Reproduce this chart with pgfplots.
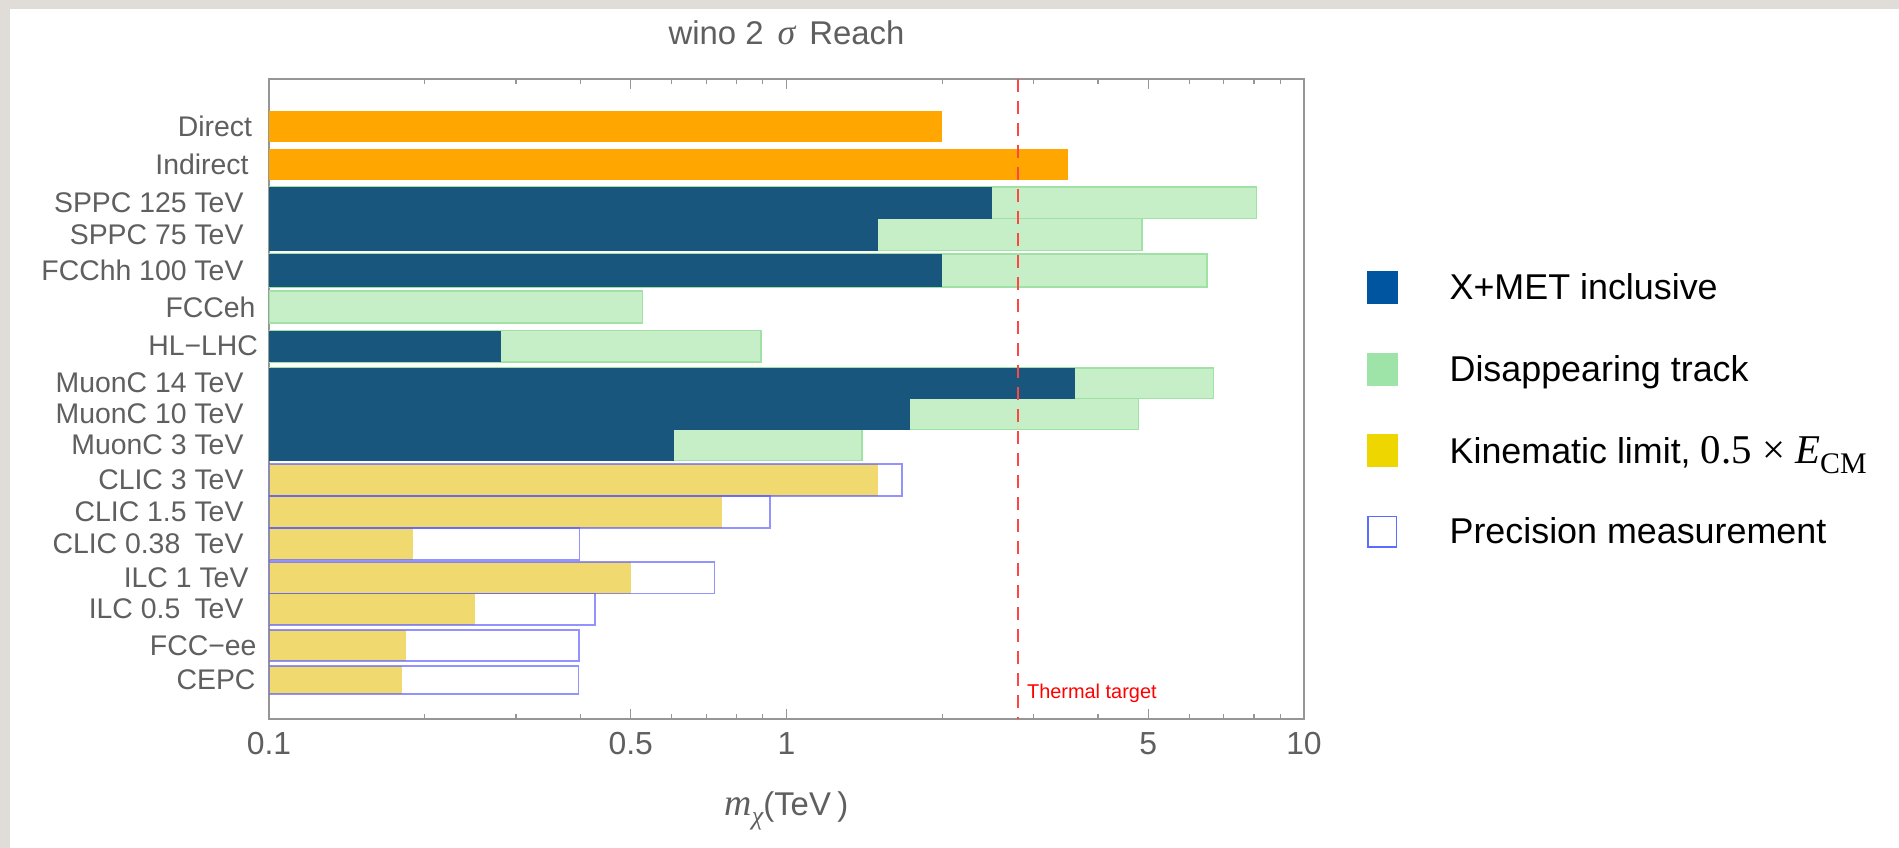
\documentclass[border=0pt]{standalone}
\usepackage{fontspec}
\setmainfont{Liberation Sans}
\newfontfamily\timesface{Liberation Serif}
\usepackage{pgfplots}
\pgfplotsset{compat=1.18}

\definecolor{cardgrey}{RGB}{224,221,216}
\definecolor{framegrey}{RGB}{150,150,150}
\definecolor{labelgrey}{RGB}{95,95,95}
\definecolor{orangebar}{RGB}{255,166,0}
\definecolor{bluebar}{RGB}{24,86,126}
\definecolor{greenbar}{RGB}{198,239,200}
\definecolor{greenedge}{RGB}{160,226,166}
\definecolor{yellowbar}{RGB}{240,218,112}
\definecolor{precedge}{RGB}{90,90,255}
\definecolor{legblue}{RGB}{0,85,160}
\definecolor{leggreen}{RGB}{158,227,168}
\definecolor{legyellow}{RGB}{238,215,0}
\definecolor{legprec}{RGB}{92,108,255}
\definecolor{thermal}{RGB}{255,70,70}

\pgfplotsset{
  direct/.style={fill=orangebar, draw=none},
  xmet/.style={fill=bluebar, draw=none},
  dtrack/.style={fill=greenbar, draw=greenedge, line width=1.5bp},
  precfill/.style={fill=white, draw=none},
  kin/.style={fill=yellowbar, draw=none},
  precline/.style={draw=precedge, draw opacity=0.65, line width=1.5bp},
}

\begin{document}
\begin{tikzpicture}
% page frame
\fill[cardgrey] (0,0) rectangle (1899bp,848bp);
\fill[white] (10bp,0) rectangle (1899bp,839bp);

\begin{axis}[
  at={(269bp,129bp)}, anchor=south west,
  scale only axis, width=1035bp, height=640bp,
  xmode=log, xmin=0.1, xmax=10,
  ymin=79, ymax=719, y dir=reverse,
  axis line style={draw=framegrey, line width=1.5bp},
  xtick={0.1,0.5,1,5,10},
  xticklabels={0.1,0.5,1,5,10},
  minor xtick={0.2,0.3,0.4,0.6,0.7,0.8,0.9,2,3,4,6,7,8,9},
  major tick length=10bp, minor tick length=5bp,
  xtick style={draw=framegrey, line width=1.3bp},
  xticklabel style={font=\fontsize{32}{38}\selectfont, text=labelgrey, yshift=-10bp},
  ytick={126.5,164.5,203,234.5,270.5,307,346,383,414,445,480,512,544,578,609,645.5,680},
  yticklabels={Direct\kern-8.5bp,Indirect\kern-5bp,SPPC 125 TeV,SPPC 75 TeV,FCChh 100 TeV,
    FCCeh\kern-12bp,HL−LHC\kern-14.5bp,
    MuonC 14 TeV,MuonC 10 TeV,MuonC 3 TeV,CLIC 3 TeV,CLIC 1.5 TeV,
    CLIC 0.38\hspace{0.5em}TeV,
    ILC 1 TeV\kern-5bp,ILC 0.5\hspace{0.5em}TeV,FCC−ee\kern-13bp,CEPC\kern-12bp},
  ytick style={draw=none},
  yticklabel style={font=\fontsize{28.5}{34}\selectfont, text=labelgrey, xshift=-22bp},
  title={wino 2\hspace{0.15em} {\fontsize{36}{40}\selectfont\timesface\itshape σ}\hspace{0.15em} Reach},
  title style={at={(0.5,1)}, anchor=base, yshift=29bp,
    font=\fontsize{33}{39}\selectfont, text=labelgrey},
  xlabel={{\fontsize{38}{42}\selectfont\timesface\itshape m}\raisebox{-0.3em}{\fontsize{26}{30}\selectfont\timesface\itshape χ}(TeV\hspace{0.2em})},
  xlabel style={at={(0.5,0)}, anchor=base, yshift=-96bp,
    font=\fontsize{33}{39}\selectfont, text=labelgrey},
  legend style={at={(1.0609,0.700)}, anchor=north west, draw=none, fill=none,
    inner sep=0pt, row sep=49bp, font=\fontsize{36}{43}\selectfont,
    cells={anchor=west},
    /tikz/every odd column/.append style={column sep=50bp}},
  legend cell align=left,
]

% legend swatches
\addlegendimage{legend image code/.code={\fill[legblue] (0bp,-16bp) rectangle (30bp,16bp);}}
\addlegendentry{X+MET inclusive}
\addlegendimage{legend image code/.code={\fill[leggreen] (0bp,-16bp) rectangle (30bp,16bp);}}
\addlegendentry{Disappearing track}
\addlegendimage{legend image code/.code={\fill[legyellow] (0bp,-16bp) rectangle (30bp,16bp);}}
\addlegendentry{Kinematic limit, {\fontsize{41}{45}\selectfont\timesface 0.5 × \textit{E}}\raisebox{-0.3em}{\fontsize{30}{34}\selectfont\timesface CM}}
\addlegendimage{legend image code/.code={\draw[legprec, line width=1.5bp, fill=white] (0.75bp,-15.25bp) rectangle (29.25bp,15.25bp);}}
\addlegendentry{Precision measurement}

% direct and indirect detection
\addplot[direct] coordinates {(0.1,111) (2.0,111) (2.0,142) (0.1,142)} -- cycle;
\addplot[direct] coordinates {(0.1,149) (3.5,149) (3.5,180) (0.1,180)} -- cycle;

% SPPC 125 TeV / 75 TeV
\addplot[dtrack] coordinates {(0.1,187) (8.1,187) (8.1,218.5) (0.1,218.5)} -- cycle;
\addplot[dtrack] coordinates {(0.1,218.5) (4.86,218.5) (4.86,250.5) (0.1,250.5)} -- cycle;
\addplot[xmet] coordinates {(0.1,187) (2.5,187) (2.5,218.5) (0.1,218.5)} -- cycle;
\addplot[xmet] coordinates {(0.1,218.5) (1.5,218.5) (1.5,250.5) (0.1,250.5)} -- cycle;

% FCChh 100 TeV
\addplot[dtrack] coordinates {(0.1,254) (6.49,254) (6.49,287) (0.1,287)} -- cycle;
\addplot[xmet] coordinates {(0.1,254) (2.0,254) (2.0,287) (0.1,287)} -- cycle;

% FCCeh
\addplot[dtrack] coordinates {(0.1,291) (0.527,291) (0.527,323) (0.1,323)} -- cycle;

% HL-LHC
\addplot[dtrack] coordinates {(0.1,330.5) (0.892,330.5) (0.892,362) (0.1,362)} -- cycle;
\addplot[xmet] coordinates {(0.1,330.5) (0.281,330.5) (0.281,362) (0.1,362)} -- cycle;

% muon collider 14 / 10 / 3 TeV
\addplot[dtrack] coordinates {(0.1,368) (6.68,368) (6.68,398.5) (0.1,398.5)} -- cycle;
\addplot[dtrack] coordinates {(0.1,398.5) (4.79,398.5) (4.79,429.5) (0.1,429.5)} -- cycle;
\addplot[dtrack] coordinates {(0.1,429.5) (1.40,429.5) (1.40,460.5) (0.1,460.5)} -- cycle;
\addplot[xmet] coordinates {(0.1,368) (3.61,368) (3.61,398.5) (0.1,398.5)} -- cycle;
\addplot[xmet] coordinates {(0.1,398.5) (1.73,398.5) (1.73,429.5) (0.1,429.5)} -- cycle;
\addplot[xmet] coordinates {(0.1,429.5) (0.607,429.5) (0.607,460.5) (0.1,460.5)} -- cycle;

% CLIC 3 / 1.5 / 0.38 TeV: precision box, kinematic bar, box outline
\addplot[precfill] coordinates {(0.1,464) (1.67,464) (1.67,496) (0.1,496)} -- cycle;
\addplot[precfill] coordinates {(0.1,496) (0.93,496) (0.93,528) (0.1,528)} -- cycle;
\addplot[precfill] coordinates {(0.1,528) (0.398,528) (0.398,560) (0.1,560)} -- cycle;
\addplot[kin] coordinates {(0.1,464) (1.5,464) (1.5,496) (0.1,496)} -- cycle;
\addplot[kin] coordinates {(0.1,496) (0.75,496) (0.75,528) (0.1,528)} -- cycle;
\addplot[kin] coordinates {(0.1,528) (0.19,528) (0.19,560) (0.1,560)} -- cycle;
\addplot[precline] coordinates {(0.1,464) (1.67,464) (1.67,496) (0.1,496)} -- cycle;
\addplot[precline] coordinates {(0.1,496) (0.93,496) (0.93,528) (0.1,528)} -- cycle;
\addplot[precline] coordinates {(0.1,528) (0.398,528) (0.398,560) (0.1,560)} -- cycle;

% ILC 1 / 0.5 TeV
\addplot[precfill] coordinates {(0.1,562) (0.726,562) (0.726,593.5) (0.1,593.5)} -- cycle;
\addplot[precfill] coordinates {(0.1,593.5) (0.427,593.5) (0.427,625) (0.1,625)} -- cycle;
\addplot[kin] coordinates {(0.1,562) (0.5,562) (0.5,593.5) (0.1,593.5)} -- cycle;
\addplot[kin] coordinates {(0.1,593.5) (0.25,593.5) (0.25,625) (0.1,625)} -- cycle;
\addplot[precline] coordinates {(0.1,562) (0.726,562) (0.726,593.5) (0.1,593.5)} -- cycle;
\addplot[precline] coordinates {(0.1,593.5) (0.427,593.5) (0.427,625) (0.1,625)} -- cycle;

% FCC-ee
\addplot[precfill] coordinates {(0.1,630) (0.397,630) (0.397,661) (0.1,661)} -- cycle;
\addplot[kin] coordinates {(0.1,630) (0.184,630) (0.184,661) (0.1,661)} -- cycle;
\addplot[precline] coordinates {(0.1,630) (0.397,630) (0.397,661) (0.1,661)} -- cycle;

% CEPC
\addplot[precfill] coordinates {(0.1,666) (0.396,666) (0.396,694) (0.1,694)} -- cycle;
\addplot[kin] coordinates {(0.1,666) (0.181,666) (0.181,694) (0.1,694)} -- cycle;
\addplot[precline] coordinates {(0.1,666) (0.396,666) (0.396,694) (0.1,694)} -- cycle;

% thermal wino mass
\addplot[thermal, line width=1.5bp, dash pattern=on 13bp off 9bp] coordinates {(2.8,79) (2.8,719)};
\node[anchor=west, inner sep=0pt, xshift=9bp, text=red, font=\fontsize{20}{24}\selectfont]
  at (axis cs:2.8,693) {Thermal target};
\end{axis}
\end{tikzpicture}
\end{document}
